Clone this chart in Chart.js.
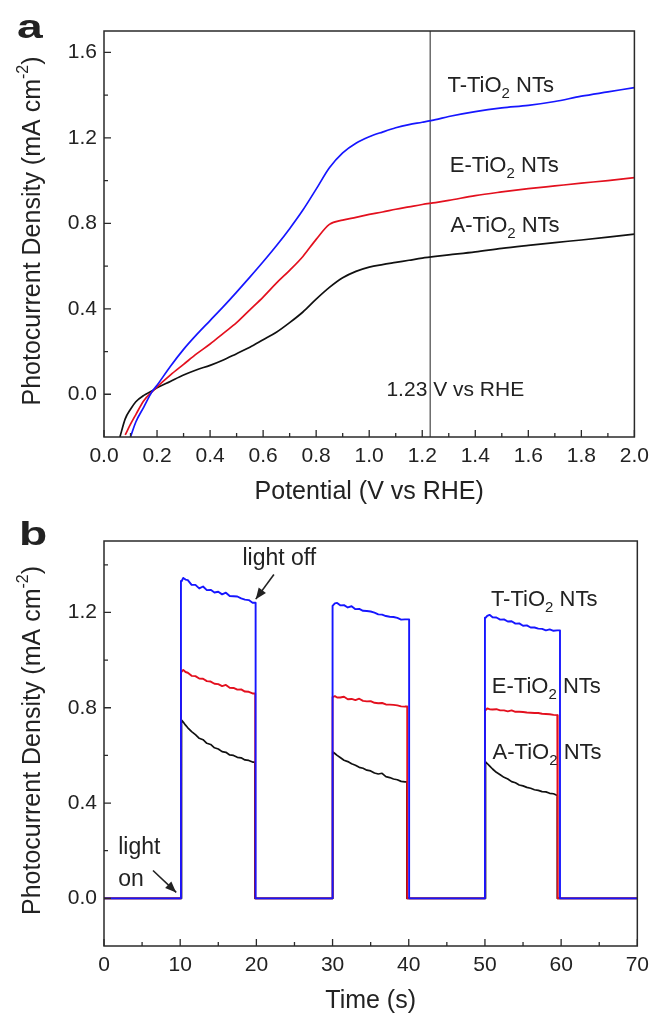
<!DOCTYPE html>
<html><head><meta charset="utf-8">
<script src="https://cdn.jsdelivr.net/npm/chart.js@4.4.1/dist/chart.umd.min.js"></script>
<style>
html,body{margin:0;padding:0;background:#fff;}
#wrap{position:relative;width:656px;height:1013px;overflow:hidden;background:#fff;}
canvas{position:absolute;left:0;}
#cA{top:0;} #cB{top:506px;}
</style></head><body>
<div id="wrap"><canvas id="cA" width="656" height="506"></canvas><canvas id="cB" width="656" height="507"></canvas></div>
<script>
const FONT = "'Liberation Sans', Arial, Helvetica, sans-serif";

// ---------- Panel a : LSV curves ----------
const potential = [0.06,0.08,0.10,0.12,0.15,0.18,0.20,0.25,0.30,0.35,0.40,0.45,0.50,0.55,0.60,0.65,0.70,0.75,0.80,0.85,0.90,0.95,1.00,1.05,1.10,1.15,1.20,1.25,1.30,1.40,1.50,1.60,1.70,1.80,1.90,2.00];
const tLSV = [null,null,-0.20,-0.13,-0.06,0.01,0.042,0.13,0.21,0.28,0.345,0.41,0.478,0.548,0.62,0.695,0.775,0.862,0.96,1.06,1.13,1.175,1.205,1.227,1.247,1.262,1.273,1.285,1.30,1.323,1.34,1.352,1.37,1.395,1.415,1.435];
const eLSV = [null,-0.19,-0.14,-0.095,-0.03,0.01,0.035,0.09,0.14,0.19,0.235,0.285,0.335,0.395,0.455,0.52,0.58,0.645,0.725,0.795,0.815,0.828,0.842,0.853,0.866,0.877,0.888,0.897,0.907,0.93,0.947,0.962,0.975,0.988,1.0,1.014];
const aLSV = [-0.20,-0.115,-0.07,-0.035,-0.005,0.015,0.03,0.06,0.09,0.115,0.135,0.16,0.19,0.22,0.255,0.29,0.335,0.385,0.445,0.50,0.545,0.575,0.595,0.607,0.617,0.627,0.637,0.645,0.652,0.666,0.683,0.697,0.71,0.722,0.735,0.749];
const potentialTicks = [0.0,0.2,0.4,0.6,0.8,1.0,1.2,1.4,1.6,1.8,2.0];
const potentialMinor = [0.1,0.3,0.5,0.7,0.9,1.1,1.3,1.5,1.7,1.9];
const densityTicksA = [0.0,0.4,0.8,1.2,1.6];
const densityMinorA = [0.2,0.6,1.0,1.4];
const refPotential = 1.23;

// ---------- Panel b : chopped-light transients ----------
const times1 = [10.2,10.4,10.7,11.0,11.5,12.0,12.5,13.0,13.5,14.0,14.5,15.0,15.5,16.0,16.5,17.0,17.5,18.0,18.5,19.0,19.5];
const times2 = [30.05,30.3,30.6,31.0,31.5,32.0,32.5,33.0,33.5,34.0,34.5,35.0,35.5,36.0,36.5,37.0,37.5,38.0,38.5,39.0,39.5];
const times3 = [50.1,50.3,50.6,51.0,51.5,52.0,52.5,53.0,53.5,54.0,54.5,55.0,55.5,56.0,56.5,57.0,57.5,58.0,58.5,59.0,59.5];
const tPulse1 = [1.332,1.345,1.338,1.336,1.316,1.316,1.301,1.309,1.294,1.295,1.284,1.287,1.276,1.283,1.269,1.268,1.267,1.259,1.254,1.252,1.241];
const tPulse2 = [1.228,1.238,1.240,1.230,1.231,1.221,1.226,1.214,1.215,1.207,1.206,1.204,1.199,1.192,1.191,1.185,1.182,1.181,1.177,1.170,1.171];
const tPulse3 = [1.178,1.186,1.190,1.180,1.179,1.170,1.171,1.162,1.163,1.153,1.154,1.144,1.146,1.137,1.137,1.132,1.131,1.125,1.129,1.123,1.125];
const ePulse1 = [0.952,0.959,0.950,0.947,0.934,0.933,0.923,0.922,0.912,0.910,0.901,0.899,0.891,0.896,0.884,0.883,0.876,0.877,0.868,0.867,0.860];
const ePulse2 = [0.845,0.849,0.843,0.843,0.846,0.836,0.837,0.832,0.838,0.829,0.827,0.828,0.821,0.819,0.820,0.814,0.813,0.812,0.810,0.806,0.805];
const ePulse3 = [0.790,0.797,0.794,0.793,0.794,0.789,0.789,0.785,0.789,0.783,0.783,0.782,0.780,0.779,0.778,0.778,0.775,0.774,0.773,0.770,0.769];
const aPulse1 = [0.748,0.740,0.727,0.716,0.700,0.687,0.672,0.666,0.651,0.646,0.632,0.627,0.616,0.613,0.602,0.600,0.592,0.590,0.581,0.579,0.572];
const aPulse2 = [0.615,0.608,0.600,0.591,0.580,0.574,0.565,0.559,0.550,0.546,0.538,0.535,0.526,0.522,0.525,0.511,0.507,0.501,0.498,0.491,0.489];
const aPulse3 = [0.573,0.566,0.556,0.543,0.529,0.519,0.508,0.501,0.490,0.485,0.476,0.472,0.466,0.462,0.456,0.453,0.448,0.447,0.441,0.439,0.432];
const tOn = [10.1,29.95,50.0],  tOff = [19.9,40.05,59.85];
const eOn = [10.1,29.95,50.0],  eOff = [19.85,39.8,59.55];
const aOn = [10.15,30.0,50.05], aOff = [19.8,39.75,59.5];
const timeStart = 0, timeEnd = 70;
const timeTicks = [0,10,20,30,40,50,60,70];
const timeMinor = [5,15,25,35,45,55,65];
const densityTicksB = [0.0,0.4,0.8,1.2];
const densityMinorB = [0.2,0.6,1.0,1.4];

const BLUE = '#1616ff', RED = '#e3101e', BLACK = '#111111', TXT = '#222222';

function lsvPoints(vals){ return potential.map((x,i)=>({x, y:vals[i]})).filter(p=>p.y!==null); }
function transient(on, off, times, pulses){
  const pts=[{x:timeStart,y:0}];
  pulses.forEach((vals,k)=>{
    pts.push({x:on[k],y:0},{x:on[k],y:vals[0]});
    times[k].forEach((t,i)=>pts.push({x:t,y:vals[i]}));
    pts.push({x:off[k],y:vals[vals.length-1]},{x:off[k],y:0});
  });
  pts.push({x:timeEnd,y:0});
  return pts;
}

function rich(ctx, parts, x, y, measureOnly){
  let cx=x;
  for(const p of parts){
    ctx.font=(p[3]?'bold ':'')+p[1]+'px '+FONT;
    if(!measureOnly) ctx.fillText(p[0],cx,y+p[2]);
    cx+=ctx.measureText(p[0]).width;
  }
  return cx-x;
}
function tio2(prefix){ return [[prefix+'-TiO',22,0],['2',15,6],[' NTs',22,0]]; }
const yTitleParts = [['Photocurrent Density (mA cm',25,0],['-2',16,-12],[')',25,0]];

function arrow(ctx,x1,y1,x2,y2){
  ctx.beginPath(); ctx.moveTo(x1,y1); ctx.lineTo(x2,y2); ctx.lineWidth=1.6; ctx.strokeStyle=TXT; ctx.stroke();
  const a=Math.atan2(y2-y1,x2-x1), L=11, W=4.5;
  ctx.beginPath(); ctx.moveTo(x2,y2);
  ctx.lineTo(x2-L*Math.cos(a)+W*Math.sin(a), y2-L*Math.sin(a)-W*Math.cos(a));
  ctx.lineTo(x2-L*Math.cos(a)-W*Math.sin(a), y2-L*Math.sin(a)+W*Math.cos(a));
  ctx.closePath(); ctx.fillStyle=TXT; ctx.fill();
}

const deco = {
  id:'deco',
  beforeDatasetsDraw(chart,args,o){
    if(o.refLine==null) return;
    const ctx=chart.ctx, ca=chart.chartArea, xp=chart.scales.x.getPixelForValue(o.refLine);
    ctx.save(); ctx.strokeStyle='#555'; ctx.lineWidth=1.3;
    ctx.beginPath(); ctx.moveTo(xp,ca.top); ctx.lineTo(xp,ca.bottom); ctx.stroke(); ctx.restore();
  },
  afterDraw(chart,args,o){
    const ctx=chart.ctx, ca=chart.chartArea, xs=chart.scales.x, ys=chart.scales.y;
    ctx.save();
    ctx.strokeStyle='#2a2a2a'; ctx.lineWidth=1.5;
    ctx.strokeRect(ca.left,ca.top,ca.right-ca.left,ca.bottom-ca.top);
    ctx.lineWidth=1.3; ctx.beginPath();
    const tk=(arr,len,axis)=>arr.forEach(v=>{
      if(axis==='x'){const p=xs.getPixelForValue(v); ctx.moveTo(p,ca.bottom); ctx.lineTo(p,ca.bottom-len);}
      else {const p=ys.getPixelForValue(v); ctx.moveTo(ca.left,p); ctx.lineTo(ca.left+len,p);}
    });
    tk(o.xMajor,7,'x'); tk(o.xMinor,4,'x'); tk(o.yMajor,7,'y'); tk(o.yMinor,4,'y');
    ctx.stroke();
    ctx.fillStyle=TXT; ctx.textBaseline='alphabetic'; ctx.textAlign='left';
    ctx.font='25px '+FONT;
    const xw=ctx.measureText(o.xTitle).width;
    ctx.fillText(o.xTitle,(ca.left+ca.right)/2-xw/2,ca.bottom+62);
    ctx.save(); ctx.translate(40,(ca.top+ca.bottom)/2-3); ctx.rotate(-Math.PI/2);
    const yw=rich(ctx,yTitleParts,0,0,true); rich(ctx,yTitleParts,-yw/2,0);
    ctx.restore();
    ctx.save(); ctx.translate(o.letterX,o.letterY); ctx.scale(1.4,1);
    ctx.font='bold 33px '+FONT; ctx.fillText(o.letter,0,0); ctx.restore();
    (o.notes||[]).forEach(n=>{
      rich(ctx,n.parts,xs.getPixelForValue(n.x),ys.getPixelForValue(n.y));
    });
    (o.arrows||[]).forEach(a=>{
      arrow(ctx,xs.getPixelForValue(a[0]),ys.getPixelForValue(a[1]),xs.getPixelForValue(a[2]),ys.getPixelForValue(a[3]));
    });
    ctx.restore();
  }
};

function makeOptions(xCfg,yCfg,decoCfg,padTop,xAxisH){
  return {
    responsive:false, animation:false, devicePixelRatio:1,
    layout:{padding:{left:0,right:15,top:padTop,bottom:0}},
    plugins:{legend:{display:false},tooltip:{enabled:false},deco:decoCfg},
    elements:{point:{radius:0,hoverRadius:0},line:{tension:0,borderJoinStyle:'round',fill:false}},
    scales:{
      x:{type:'linear',min:xCfg.min,max:xCfg.max,
        grid:{display:false,drawTicks:false},border:{display:false},
        afterBuildTicks(s){s.ticks=xCfg.ticks.map(v=>({value:v}));},
        afterFit(s){s.height=xAxisH;},
        ticks:{font:{family:FONT,size:21},color:TXT,padding:7,maxRotation:0,autoSkip:false,callback:v=>xCfg.fmt(v)}},
      y:{type:'linear',min:yCfg.min,max:yCfg.max,
        grid:{display:false,drawTicks:false},border:{display:false},
        afterBuildTicks(s){s.ticks=yCfg.ticks.map(v=>({value:v}));},
        afterFit(s){s.width=104;},
        ticks:{font:{family:FONT,size:21},color:TXT,padding:7,autoSkip:false,callback:v=>Number(v).toFixed(1)}}
    }
  };
}

new Chart(document.getElementById('cA'),{
  type:'line',
  data:{datasets:[
    {label:'T-TiO2 NTs',data:lsvPoints(tLSV),borderColor:BLUE,borderWidth:1.7,cubicInterpolationMode:'monotone'},
    {label:'E-TiO2 NTs',data:lsvPoints(eLSV),borderColor:RED,borderWidth:1.7,cubicInterpolationMode:'monotone'},
    {label:'A-TiO2 NTs',data:lsvPoints(aLSV),borderColor:BLACK,borderWidth:1.7,cubicInterpolationMode:'monotone'}
  ]},
  options:makeOptions(
    {min:0,max:2.0,ticks:potentialTicks,fmt:v=>Number(v).toFixed(1)},
    {min:-0.2,max:1.7,ticks:densityTicksA},
    {refLine:refPotential,xMajor:potentialTicks,xMinor:potentialMinor,yMajor:densityTicksA,yMinor:densityMinorA,
     xTitle:'Potential (V vs RHE)',letter:'a',letterX:17,letterY:38,
     notes:[{x:1.295,y:1.415,parts:tio2('T')},{x:1.304,y:1.04,parts:tio2('E')},{x:1.307,y:0.759,parts:tio2('A')},
            {x:1.065,y:-0.008,parts:[['1.23 V vs RHE',21,0]]}]},
    31,69),
  plugins:[deco]
});

new Chart(document.getElementById('cB'),{
  type:'line',
  data:{datasets:[
    {label:'T-TiO2 NTs',data:transient(tOn,tOff,[times1,times2,times3],[tPulse1,tPulse2,tPulse3]),borderColor:BLUE,borderWidth:1.9},
    {label:'E-TiO2 NTs',data:transient(eOn,eOff,[times1,times2,times3],[ePulse1,ePulse2,ePulse3]),borderColor:RED,borderWidth:1.9},
    {label:'A-TiO2 NTs',data:transient(aOn,aOff,[times1,times2,times3],[aPulse1,aPulse2,aPulse3]),borderColor:BLACK,borderWidth:1.7}
  ]},
  options:makeOptions(
    {min:0,max:70,ticks:timeTicks,fmt:v=>String(v)},
    {min:-0.2,max:1.5,ticks:densityTicksB},
    {refLine:null,xMajor:timeTicks,xMinor:timeMinor,yMajor:densityTicksB,yMinor:densityMinorB,
     xTitle:'Time (s)',letter:'b',letterX:19,letterY:39,
     notes:[{x:50.78,y:1.228,parts:tio2('T')},{x:50.9,y:0.861,parts:tio2('E')},{x:51.0,y:0.583,parts:tio2('A')},
            {x:18.17,y:1.401,parts:[['light off',23,0]]},
            {x:1.87,y:0.188,parts:[['light',23,0]]},{x:1.87,y:0.053,parts:[['on',23,0]]}],
     arrows:[[22.3,1.359,19.92,1.256],[6.43,0.117,9.48,0.025]]},
    35,67),
  plugins:[deco]
});
</script>
</body></html>
